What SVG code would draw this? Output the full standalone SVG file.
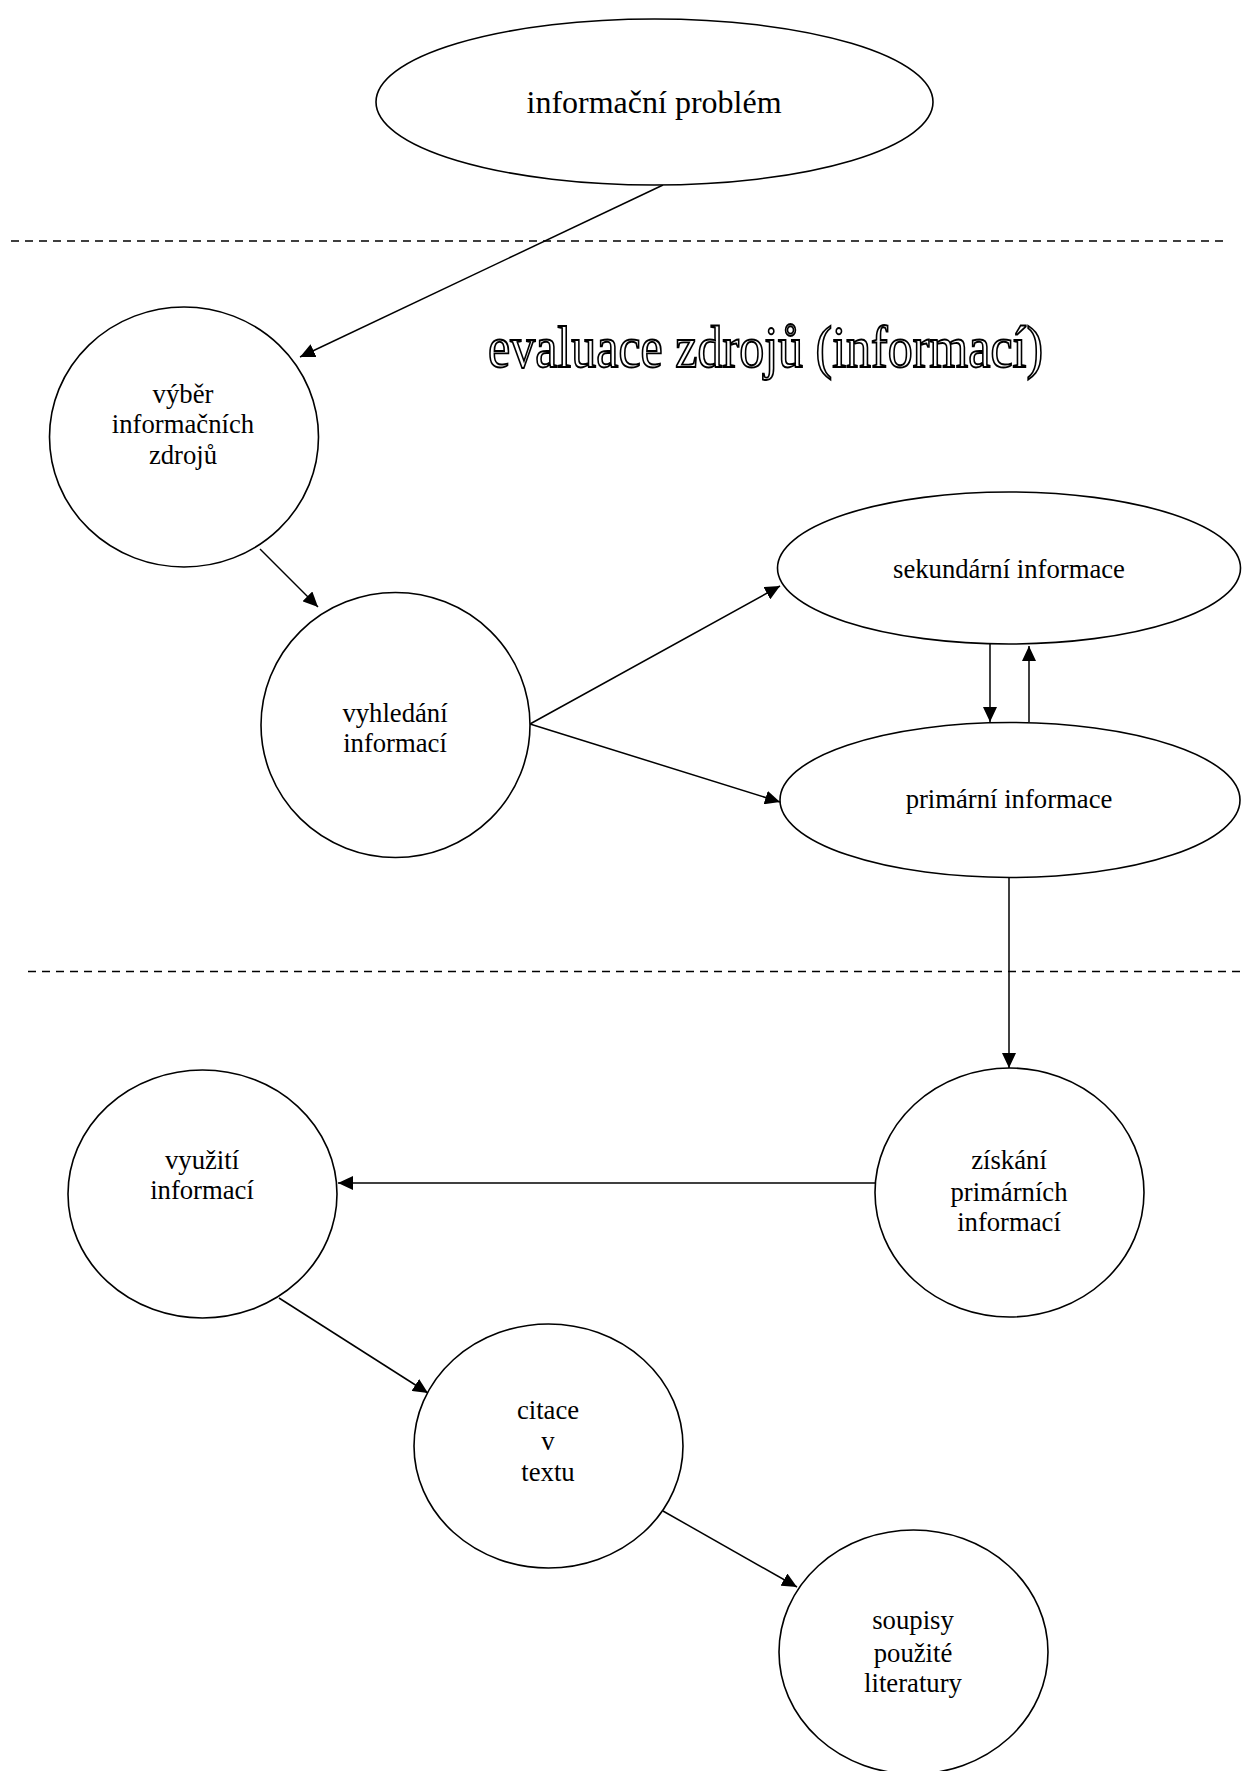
<svg xmlns="http://www.w3.org/2000/svg" width="1245" height="1771" viewBox="0 0 1245 1771">
<style>
.node{fill:#fff;stroke:#000;stroke-width:1.6}
.lbl{font-family:"Liberation Serif","Times New Roman",serif;font-size:26.7px;fill:#000;text-anchor:middle}
.edge{stroke:#000;stroke-width:1.5;fill:none;marker-end:url(#ah)}
.dash{stroke:#000;stroke-width:1.5;stroke-dasharray:8 6;fill:none}
.title{font-family:"Liberation Serif","Times New Roman",serif;font-size:50px;fill:#fff;stroke:#000;stroke-width:1.6}
</style>
<defs>
<marker id="ah" markerUnits="userSpaceOnUse" markerWidth="16" markerHeight="14" refX="15" refY="7" orient="auto">
<path d="M0,0 L15,7 L0,14 Z" fill="#000"/>
</marker>
</defs>
<rect width="1245" height="1771" fill="#fff"/>
<g id="separators">
<line class="dash" x1="11" y1="241" x2="1224" y2="241"/>
<line class="dash" x1="28" y1="971.5" x2="1245" y2="971.5"/>
</g>
<g id="title">
<text class="title" transform="translate(488,367) scale(1,1.18)" x="0" y="0">evaluace zdrojů (informací)</text>
</g>
<g id="connectors">
<line class="edge" x1="663" y1="185" x2="300" y2="357"/>
<line class="edge" x1="260" y1="549" x2="318" y2="607"/>
<line class="edge" x1="530" y1="724" x2="780" y2="586"/>
<line class="edge" x1="530" y1="724" x2="780" y2="802"/>
<line class="edge" x1="990" y1="644" x2="990" y2="722"/>
<line class="edge" x1="1029" y1="722" x2="1029" y2="646"/>
<line class="edge" x1="1009" y1="877" x2="1009" y2="1068"/>
<line class="edge" x1="875" y1="1183" x2="338" y2="1183"/>
<line class="edge" x1="279" y1="1298" x2="428" y2="1393"/>
<line class="edge" x1="663" y1="1511" x2="797" y2="1587"/>
</g>
<g id="node-problem">
<ellipse class="node" cx="654.5" cy="102" rx="278.5" ry="83"/>
<text class="lbl" style="font-size:32px" x="654" y="113">informační problém</text>
</g>
<g id="node-vyber">
<ellipse class="node" cx="184" cy="437" rx="134.5" ry="130"/>
<text class="lbl" x="183" y="403">výběr</text>
<text class="lbl" x="183" y="433">informačních</text>
<text class="lbl" x="183" y="464">zdrojů</text>
</g>
<g id="node-vyhledani">
<ellipse class="node" cx="395.5" cy="725" rx="134.5" ry="132.5"/>
<text class="lbl" x="395" y="722">vyhledání</text>
<text class="lbl" x="395" y="752">informací</text>
</g>
<g id="node-sekundarni">
<ellipse class="node" cx="1009" cy="568" rx="231.5" ry="76"/>
<text class="lbl" x="1009" y="578">sekundární informace</text>
</g>
<g id="node-primarni">
<ellipse class="node" cx="1010" cy="800" rx="230" ry="77.5"/>
<text class="lbl" x="1009" y="808">primární informace</text>
</g>
<g id="node-ziskani">
<ellipse class="node" cx="1009.5" cy="1192.5" rx="134.5" ry="124.5"/>
<text class="lbl" x="1009" y="1169">získání</text>
<text class="lbl" x="1009" y="1201">primárních</text>
<text class="lbl" x="1009" y="1231">informací</text>
</g>
<g id="node-vyuziti">
<ellipse class="node" cx="202.5" cy="1194" rx="134.5" ry="124"/>
<text class="lbl" x="202" y="1169">využití</text>
<text class="lbl" x="202" y="1199">informací</text>
</g>
<g id="node-citace">
<ellipse class="node" cx="548.5" cy="1446" rx="134.5" ry="122"/>
<text class="lbl" x="548" y="1419">citace</text>
<text class="lbl" x="548" y="1450">v</text>
<text class="lbl" x="548" y="1481">textu</text>
</g>
<g id="node-soupisy">
<ellipse class="node" cx="913.5" cy="1652" rx="134.5" ry="122"/>
<text class="lbl" x="913" y="1629">soupisy</text>
<text class="lbl" x="913" y="1662">použité</text>
<text class="lbl" x="913" y="1692">literatury</text>
</g>
</svg>
